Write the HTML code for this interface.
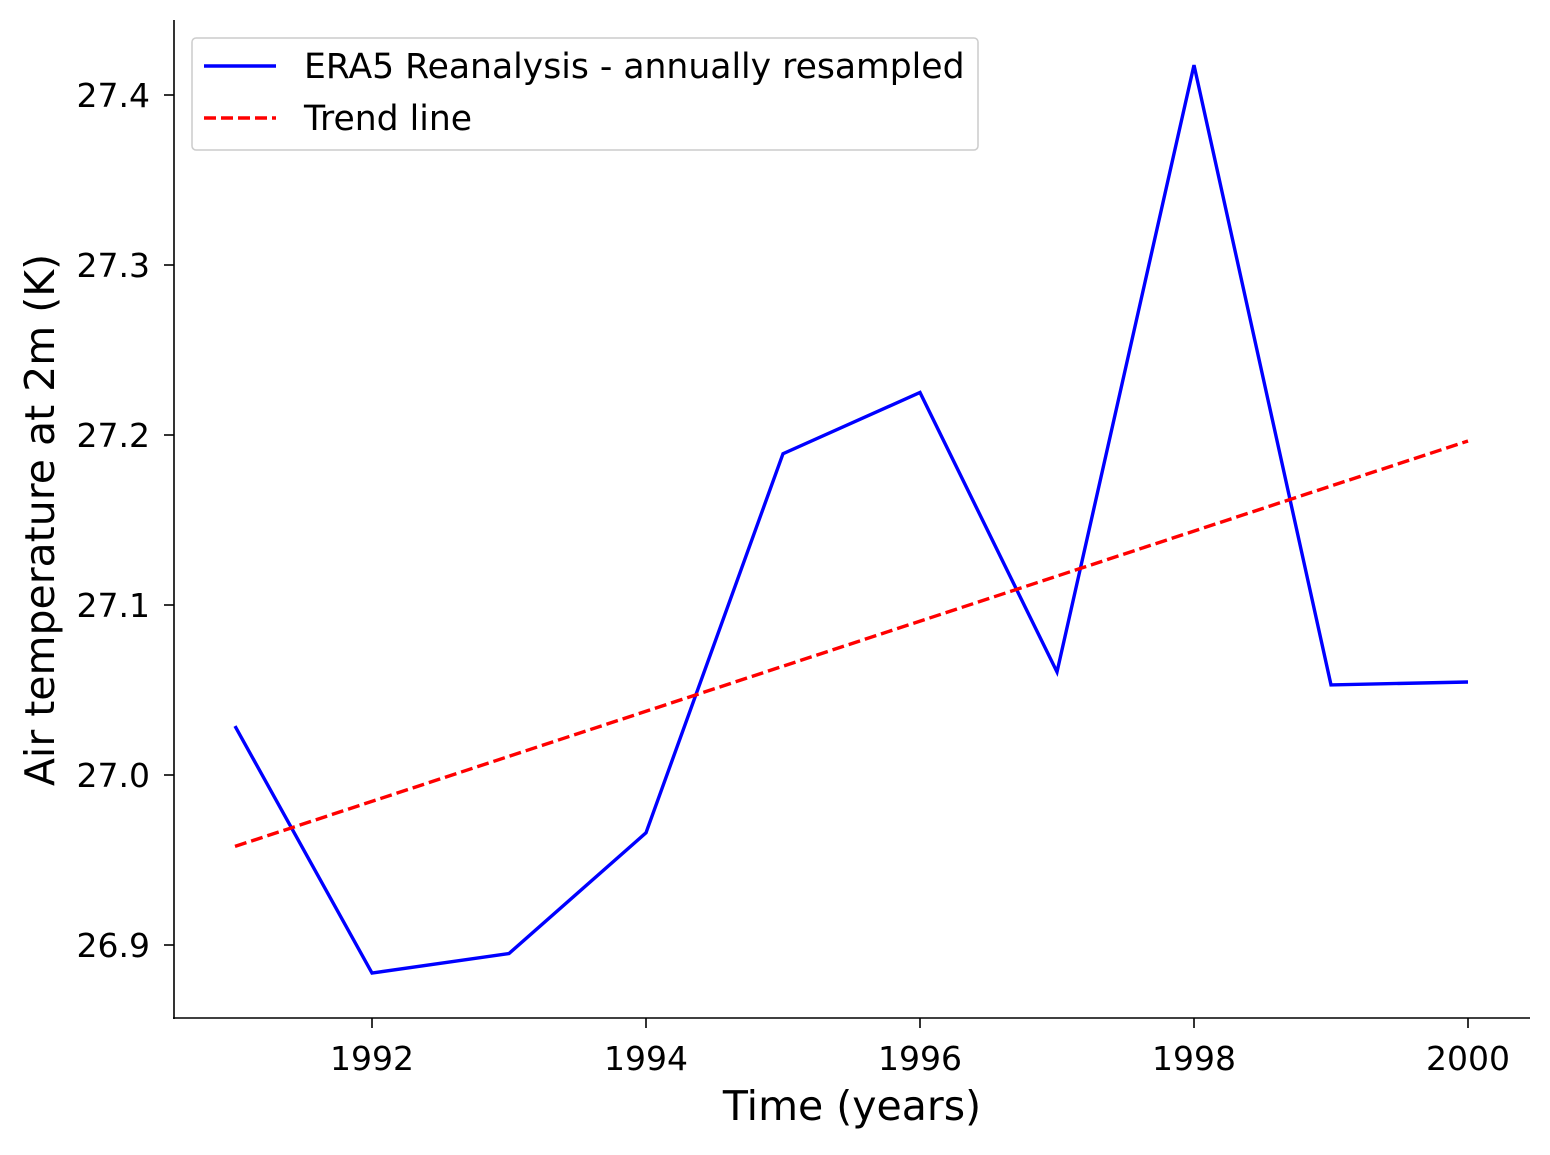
<!DOCTYPE html>
<html><head><meta charset="utf-8"><style>
body{margin:0;background:#fff}
svg{font-family:"DejaVu Sans","Liberation Sans",sans-serif}
</style></head><body>
<svg id="chart" width="1550" height="1150">
<g id="axes"></g>
<g id="series"></g>
<g id="legend">
<rect x="192" y="38" width="786" height="112" rx="4" fill="#fff" fill-opacity="0.8" stroke="#ccc" stroke-width="1.5"></rect>
<line x1="204" y1="66" x2="276" y2="66" stroke="#0000ff" stroke-width="3.4"></line>
<text x="304" y="78" font-size="34.6">ERA5 Reanalysis - annually resampled</text>
<line x1="204" y1="118" x2="276" y2="118" stroke="#ff0000" stroke-width="3.4" stroke-dasharray="12,5"></line>
<text x="304" y="130" font-size="34.6">Trend line</text>
</g>
</svg>
<script>
const years=[1991,1992,1993,1994,1995,1996,1997,1998,1999,2000];
const temps=[27.0288,26.8835,26.895,26.966,27.189,27.225,27.0606,27.4176,27.053,27.0547];
const trendYears=[1991,2000];
const trendValues=[26.958,27.1965];
const xTicks=[1992,1994,1996,1998,2000];
const yTicks=[26.9,27.0,27.1,27.2,27.3,27.4];
const NS="http://www.w3.org/2000/svg";
function x(yr){return 372+(yr-1992)*137.0;}
function y(v){return 775-(v-27)*1700;}
function mk(tag,attrs,parent,txt){const e=document.createElementNS(NS,tag);for(const k in attrs)e.setAttribute(k,attrs[k]);if(txt!==undefined)e.textContent=txt;parent.appendChild(e);return e;}
const ax=document.getElementById('axes');
let e=mk('line',{x1:174,y1:20,x2:174,y2:1019,stroke:'#000','stroke-width':1.6},ax);


e=mk('line',{x1:173,y1:1018,x2:1530,y2:1018,stroke:'#000','stroke-width':1.6},ax);


xTicks.forEach(t=>{
 mk('line',{x1:x(t),y1:1018,x2:x(t),y2:1028,stroke:'#000','stroke-width':1.6},ax);
 e=mk('text',{x:x(t),y:1070,'font-size':33,'text-anchor':'middle'},ax,String(t));
 
 
});
yTicks.forEach(t=>{
 mk('line',{x1:164,y1:y(t),x2:174,y2:y(t),stroke:'#000','stroke-width':1.6},ax);
 e=mk('text',{x:150,y:y(t)+12,'font-size':33,'text-anchor':'end'},ax,t.toFixed(1));
 
 
});
e=mk('text',{x:852,y:1120,'font-size':41,'text-anchor':'middle'},ax,'Time (years)');


e=mk('text',{x:54,y:520,'font-size':41,'text-anchor':'middle',transform:'rotate(-90 54 520)'},ax,'Air temperature at 2m (K)');


const sr=document.getElementById('series');
e=mk('polyline',{points:years.map((yr,i)=>x(yr)+','+y(temps[i])).join(' '),fill:'none',stroke:'#0000ff','stroke-width':3.4},sr);


e=mk('polyline',{points:trendYears.map((yr,i)=>x(yr)+','+y(trendValues[i])).join(' '),fill:'none',stroke:'#ff0000','stroke-width':3.4,'stroke-dasharray':'12,5'},sr);


</script>
</body></html>
